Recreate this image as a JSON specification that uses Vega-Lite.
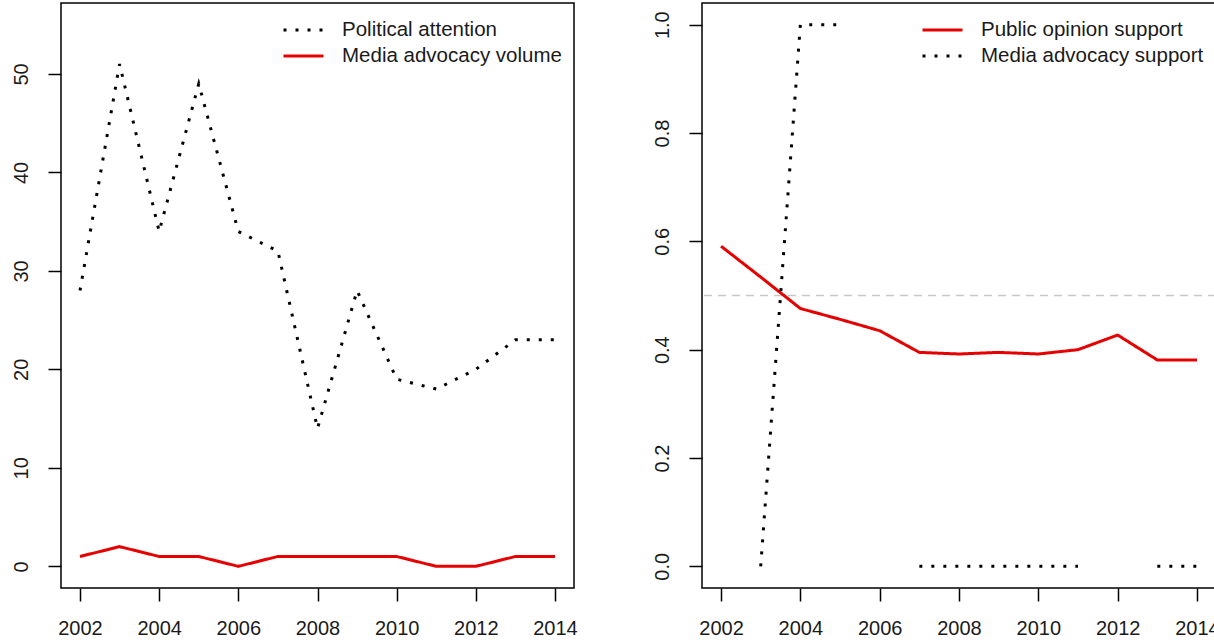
{
  "$schema": "https://vega.github.io/schema/vega-lite/v6.json",
  "background": "white",
  "padding": {"left": 10, "top": 2, "right": 0, "bottom": 0},
  "bounds": "flush",
  "spacing": 128,
  "datasets": {
    "left": [
      {"year": 2002, "series": "Political attention", "value": 28},
      {"year": 2003, "series": "Political attention", "value": 51},
      {"year": 2004, "series": "Political attention", "value": 34},
      {"year": 2005, "series": "Political attention", "value": 49},
      {"year": 2006, "series": "Political attention", "value": 34},
      {"year": 2007, "series": "Political attention", "value": 32},
      {"year": 2008, "series": "Political attention", "value": 14},
      {"year": 2009, "series": "Political attention", "value": 28},
      {"year": 2010, "series": "Political attention", "value": 19},
      {"year": 2011, "series": "Political attention", "value": 18},
      {"year": 2012, "series": "Political attention", "value": 20},
      {"year": 2013, "series": "Political attention", "value": 23},
      {"year": 2014, "series": "Political attention", "value": 23},
      {"year": 2002, "series": "Media advocacy volume", "value": 1},
      {"year": 2003, "series": "Media advocacy volume", "value": 2},
      {"year": 2004, "series": "Media advocacy volume", "value": 1},
      {"year": 2005, "series": "Media advocacy volume", "value": 1},
      {"year": 2006, "series": "Media advocacy volume", "value": 0},
      {"year": 2007, "series": "Media advocacy volume", "value": 1},
      {"year": 2008, "series": "Media advocacy volume", "value": 1},
      {"year": 2009, "series": "Media advocacy volume", "value": 1},
      {"year": 2010, "series": "Media advocacy volume", "value": 1},
      {"year": 2011, "series": "Media advocacy volume", "value": 0},
      {"year": 2012, "series": "Media advocacy volume", "value": 0},
      {"year": 2013, "series": "Media advocacy volume", "value": 1},
      {"year": 2014, "series": "Media advocacy volume", "value": 1}
    ],
    "right": [
      {"year": 2002, "series": "Public opinion support", "value": 0.591},
      {"year": 2003, "series": "Public opinion support", "value": 0.534},
      {"year": 2004, "series": "Public opinion support", "value": 0.476},
      {"year": 2005, "series": "Public opinion support", "value": 0.456},
      {"year": 2006, "series": "Public opinion support", "value": 0.435},
      {"year": 2007, "series": "Public opinion support", "value": 0.395},
      {"year": 2008, "series": "Public opinion support", "value": 0.392},
      {"year": 2009, "series": "Public opinion support", "value": 0.395},
      {"year": 2010, "series": "Public opinion support", "value": 0.392},
      {"year": 2011, "series": "Public opinion support", "value": 0.4},
      {"year": 2012, "series": "Public opinion support", "value": 0.427},
      {"year": 2013, "series": "Public opinion support", "value": 0.381},
      {"year": 2014, "series": "Public opinion support", "value": 0.381},
      {"year": 2002, "series": "Media advocacy support", "value": null},
      {"year": 2003, "series": "Media advocacy support", "value": 0},
      {"year": 2004, "series": "Media advocacy support", "value": 1},
      {"year": 2005, "series": "Media advocacy support", "value": 1},
      {"year": 2006, "series": "Media advocacy support", "value": null},
      {"year": 2007, "series": "Media advocacy support", "value": 0},
      {"year": 2008, "series": "Media advocacy support", "value": 0},
      {"year": 2009, "series": "Media advocacy support", "value": 0},
      {"year": 2010, "series": "Media advocacy support", "value": 0},
      {"year": 2011, "series": "Media advocacy support", "value": 0},
      {"year": 2012, "series": "Media advocacy support", "value": null},
      {"year": 2013, "series": "Media advocacy support", "value": 0},
      {"year": 2014, "series": "Media advocacy support", "value": 0}
    ]
  },
  "hconcat": [
    {
      "width": 513,
      "height": 585,
      "data": {"name": "left"},
      "mark": {"type": "line", "strokeWidth": 3, "invalid": "break-paths-filter-domains"},
      "encoding": {
        "x": {"field": "year", "type": "quantitative",
              "scale": {"domain": [2001.52, 2014.48], "nice": false, "zero": false},
              "axis": {"values": [2002, 2004, 2006, 2008, 2010, 2012, 2014], "format": "d", "title": null}},
        "y": {"field": "value", "type": "quantitative",
              "scale": {"domain": [-2.2, 57.2], "nice": false, "zero": false},
              "axis": {"values": [0, 10, 20, 30, 40, 50], "format": "d", "title": null}},
        "color": {"field": "series", "type": "nominal",
                  "scale": {"domain": ["Political attention", "Media advocacy volume"], "range": ["black", "#e60000"]},
                  "legend": {"title": null, "orient": "none", "legendX": 221, "legendY": 14}},
        "strokeDash": {"field": "series", "type": "nominal",
                  "scale": {"domain": ["Political attention", "Media advocacy volume"], "range": [[3, 9], [1, 0]]},
                  "legend": {"title": null, "orient": "none", "legendX": 221, "legendY": 14}}
      }
    },
    {
      "width": 514,
      "height": 585,
      "layer": [
        {
          "data": {"values": [{}]},
          "mark": {"type": "rule", "color": "#c8c8c8", "strokeWidth": 1.5, "strokeDash": [8, 6]},
          "encoding": {"y": {"datum": 0.5}}
        },
        {
          "data": {"name": "right"},
          "mark": {"type": "line", "strokeWidth": 3, "invalid": "break-paths-filter-domains"},
          "encoding": {
            "x": {"field": "year", "type": "quantitative",
                  "scale": {"domain": [2001.52, 2014.48], "nice": false, "zero": false},
                  "axis": {"values": [2002, 2004, 2006, 2008, 2010, 2012, 2014], "format": "d", "title": null}},
            "y": {"field": "value", "type": "quantitative",
                  "scale": {"domain": [-0.04, 1.04], "nice": false, "zero": false},
                  "axis": {"values": [0, 0.2, 0.4, 0.6, 0.8, 1.0], "format": ".1f", "title": null}},
            "color": {"field": "series", "type": "nominal",
                      "scale": {"domain": ["Public opinion support", "Media advocacy support"], "range": ["#e60000", "black"]},
                      "legend": {"title": null, "orient": "none", "legendX": 219, "legendY": 14}},
            "strokeDash": {"field": "series", "type": "nominal",
                      "scale": {"domain": ["Public opinion support", "Media advocacy support"], "range": [[1, 0], [3, 9]]},
                      "legend": {"title": null, "orient": "none", "legendX": 219, "legendY": 14}}
          }
        }
      ]
    }
  ],
  "resolve": {
    "scale": {"x": "independent", "y": "independent", "color": "independent", "strokeDash": "independent"},
    "axis": {"x": "independent", "y": "independent"},
    "legend": {"color": "independent", "strokeDash": "independent"}
  },
  "config": {
    "view": {"stroke": "black", "strokeWidth": 1.5},
    "font": "Liberation Sans",
    "axis": {
      "domain": false,
      "grid": false,
      "ticks": true,
      "tickColor": "black",
      "tickWidth": 1.5,
      "tickSize": 13,
      "labelFont": "Liberation Sans",
      "labelFontSize": 20,
      "labelColor": "#1a1a1a"
    },
    "axisX": {"labelPadding": 17},
    "axisY": {"labelAngle": -90, "labelAlign": "center", "labelBaseline": "bottom", "labelPadding": 17},
    "legend": {
      "symbolType": "stroke",
      "symbolSize": 1600,
      "symbolStrokeWidth": 3,
      "labelFont": "Liberation Sans",
      "labelFontSize": 20.5,
      "labelColor": "#1a1a1a",
      "labelOffset": 17,
      "rowPadding": 0,
      "clipHeight": 26,
      "labelLimit": 400
    }
  }
}
